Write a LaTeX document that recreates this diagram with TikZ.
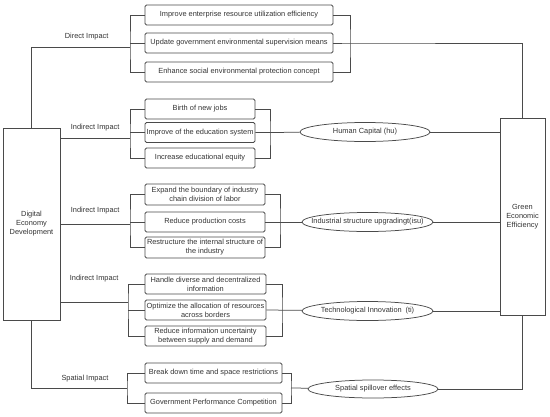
\documentclass[tikz,border=0pt]{standalone}
\usepackage{fontspec}
\setmainfont{Liberation Sans}
\usetikzlibrary{shapes.geometric, positioning}

\definecolor{linegray}{HTML}{4A4A4A}
\definecolor{textgray}{HTML}{333333}

\begin{document}
\begin{tikzpicture}[
    x=1pt, y=-1pt,
    line width=0.75pt,
    color=linegray,
    every node/.style={
        font=\fontsize{7.4}{9}\selectfont,
        text=textgray
    },
    mainbox/.style={draw, align=center, inner sep=1pt},
    effbox/.style={
        draw,
        rounded corners=1.5pt,
        minimum height=20pt,
        inner xsep=0pt,
        inner ysep=1pt,
        align=center
    },
    channel/.style={draw, ellipse, minimum height=19pt, inner xsep=-10pt, inner ysep=1pt}
]
\useasboundingbox (0,0) rectangle (550,416);

% ---------------- MAIN BOXES ----------------
\node[mainbox, minimum width=57pt, minimum height=192pt] (DED) at ( 31.5, 224  ) {Digital\\Economy\\Development};
\node[mainbox, minimum width=45pt, minimum height=197pt] (GEE) at (522.5, 216.5) {Green\\Economic\\Efficiency};

% ---------------- DIRECT IMPACT ----------------
\node[effbox, minimum width=188pt] (DI1) at (239,  15) {Improve enterprise resource utilization efficiency};
\node[effbox, minimum width=188pt] (DI2) at (239,  43) {Update government environmental supervision means};
\node[effbox, minimum width=188pt] (DI3) at (239,  72) {Enhance social environmental protection concept};
\coordinate (DIL) at (130, 47);
\coordinate (DIR) at (350, 43);

% ---------------- HUMAN CAPITAL ----------------
\node[effbox, minimum width=110pt] (HC1) at (200, 109  ) {Birth of new jobs};
\node[effbox, minimum width=110pt] (HC2) at (200, 132.5) {Improve of the education system};
\node[effbox, minimum width=110pt] (HC3) at (200, 158  ) {Increase educational equity};
\node[channel, minimum width=130pt] (HU)  at (365, 132  ) {Human Capital (hu)};
\coordinate (HCL) at (130, 138);
\coordinate (HCR) at (270, 132.5);

% ---------------- INDUSTRIAL STRUCTURE ----------------
\node[effbox, minimum width=120pt, minimum height=21pt] (IS1) at (205, 194.5) {Expand the boundary of industry\\chain division of labor};
\node[effbox, minimum width=120pt]                      (IS2) at (205, 222  ) {Reduce production costs};
\node[effbox, minimum width=120pt, minimum height=21pt] (IS3) at (205, 247.5) {Restructure the internal structure of\\the industry};
\node[channel, minimum width=131pt] (ISU) at (367.5, 222) {Industrial structure upgradingt(isu)};
\coordinate (ISL) at (130, 224);
\coordinate (ISR) at (280, 222);

% ---------------- TECHNOLOGICAL INNOVATION ----------------
\node[effbox, minimum width=121pt] (TI1) at (205.5, 284) {Handle diverse and decentralized\\information};
\node[effbox, minimum width=121pt] (TI2) at (205.5, 310) {Optimize the allocation of resources\\across borders};
\node[effbox, minimum width=121pt] (TI3) at (205.5, 336) {Reduce information uncertainty\\between supply and demand};
\node[channel, minimum width=131pt] (TI)  at (367.5, 311) {Technological Innovation\enspace(ti)};
\coordinate (TIL) at (128, 302);
\coordinate (TIR) at (282, 310);

% ---------------- SPATIAL IMPACT ----------------
\node[effbox, minimum width=137pt] (SP1) at (213.5, 373) {Break down time and space restrictions};
\node[effbox, minimum width=137pt] (SP2) at (213.5, 403) {Government Performance Competition};
\node[channel, minimum width=130pt, minimum height=18pt] (SPE) at (373, 389) {Spatial spillover effects};
\coordinate (SPL) at (127, 388);
\coordinate (SPR) at (291, 388);

% Left side: impacts
\draw (DED.north)       |- node[pos=0.78, above=3pt ] {Direct Impact}   (DIL);
\draw (DED.east |- HCL) -- node[above=3pt ]           {Indirect Impact} (HCL);
\draw (DED.east |- ISL) -- node[above=6pt ]           {Indirect Impact} (ISL);
\draw (DED.east |- TIL) -- node[above=16pt]           {Indirect Impact} (TIL);
\draw (DED.south)       |- node[pos=0.78, above=2pt ] {Spatial Impact}  (SPL);

% Left brackets
\draw (DI1.west) -| (DIL) |- (DI3.west);
\draw (DI2.west) -- (DI2.west -| DIL);
\draw (HC1.west) -| (HCL) |- (HC3.west);
\draw (HC2.west) -- (HC2.west -| HCL);
\draw (IS1.west) -| (ISL) |- (IS3.west);
\draw (IS2.west) -- (IS2.west -| ISL);
\draw (TI1.west) -| (TIL) |- (TI3.west);
\draw (TI2.west) -- (TI2.west -| TIL);
\draw (SP1.west) -| (SPL) |- (SP2.west);

% Right brackets
\draw (DI1.east) -| (DIR) |- (DI3.east);
\draw (HC1.east) -| (HCR) |- (HC3.east);
\draw (IS1.east) -| (ISR) |- (IS3.east);
\draw (TI1.east) -| (TIR) |- (TI3.east);
\draw (SP1.east) -| (SPR) |- (SP2.east);

% Channels to Green Economic Efficiency
\draw (DI2.east) -- (DIR) -| (GEE.north);
\draw (HC2.east) -- (HU);
\draw (HU)  -- (HU.east -| GEE.west);
\draw (IS2.east) -- (ISU);
\draw (ISU) -- (ISU.east -| GEE.west);
\draw (TI2.east) -- (TI);
\draw (TI)  -- (TI.east -| GEE.west);
\draw (SPR) -- (SPE);
\draw (SPE) -| (GEE.south);

\end{tikzpicture}
\end{document}
